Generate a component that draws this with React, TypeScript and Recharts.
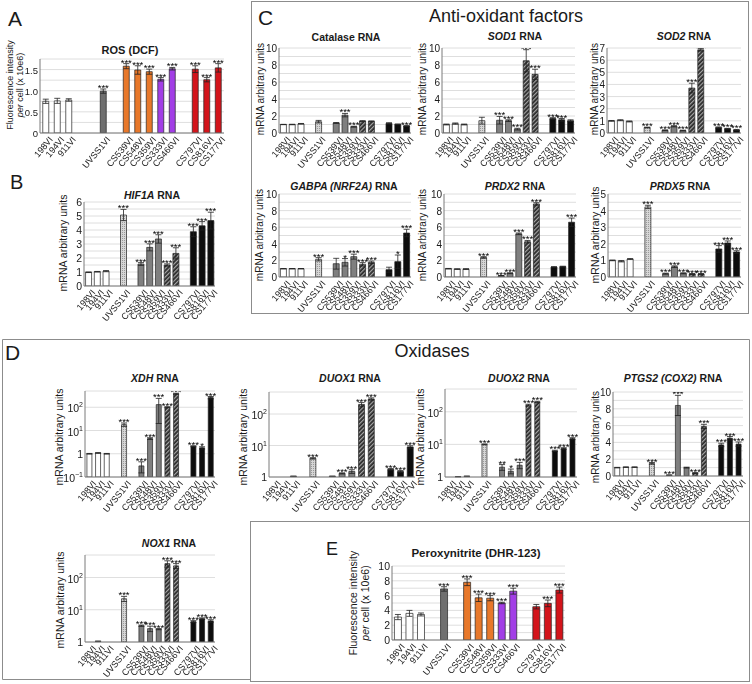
import React from "react";
import {
  ComposedChart,
  Bar,
  Scatter,
  XAxis,
  YAxis,
  CartesianGrid,
  ErrorBar,
  Cell,
} from "recharts";

const FONT = "'Liberation Sans', Arial, Helvetica, sans-serif";
const INK = "#1a1a1a";
const AXIS = "#7a7a7a";
const GRID = "#d6d6d6";

// cell lines, in plotting order (gaps after 911VI, UVSS1VI and CS466VI)
const cellLines = [
  "198VI", "194VI", "911VI", "UVSS1VI",
  "CS539VI", "CS548VI", "CS359VI", "CS333VI", "CS466VI",
  "CS797VI", "CS816VI", "CS177VI",
];

const flowFills = [
  "#ffffff", "#ffffff", "#ffffff", "#6f6f6f",
  "#e8782a", "#e8782a", "#e8782a", "#a23ee6", "#a23ee6",
  "#d3141b", "#d3141b", "#d3141b",
];
const rnaFills = [
  "#ffffff", "#ffffff", "#ffffff", "url(#uvDots)",
  "#7f7f7f", "#7f7f7f", "#7f7f7f", "url(#hatch)", "url(#hatch)",
  "#0d0d0d", "#0d0d0d", "#0d0d0d",
];

// A - ROS (DCF)
const rosValues = [0.75, 0.76, 0.78, 0.99, 1.58, 1.49, 1.45, 1.27, 1.52, 1.51, 1.26, 1.54];
const rosErrors = [0.05, 0.06, 0.03, 0.05, 0.06, 0.1, 0.06, 0.04, 0.03, 0.08, 0.05, 0.1];
const rosStars = ["", "", "", "***", "***", "***", "***", "***", "***", "***", "***", "***"];
const rosTicks = [0, 0.25, 0.5, 0.75, 1, 1.25, 1.5, 1.75];
const rosLabels = [0, 0.5, 1, 1.5];

// B - HIF1A
const hif1aValues = [0.98, 1.02, 1.06, 5.07, 1.57, 2.76, 3.36, 1.5, 2.33, 3.88, 4.3, 4.67];
const hif1aErrors = [0.02, 0.02, 0.04, 0.4, 0.1, 0.25, 0.3, 0.08, 0.4, 0.35, 0.3, 0.6];
const hif1aStars = ["", "", "", "***", "***", "***", "***", "***", "***", "***", "***", "***"];
const hif1aTicks = [0, 0.5, 1, 1.5, 2, 2.5, 3, 3.5, 4, 4.5, 5, 5.5, 6];
const hif1aLabels = [0, 1, 2, 3, 4, 5, 6];

// C - anti-oxidant factors
const catalaseValues = [1.0, 1.0, 1.08, 1.33, 1.18, 2.1, 0.74, 1.4, 1.37, 1.13, 1.02, 0.82];
const catalaseErrors = [0.02, 0.03, 0.04, 0.15, 0.05, 0.2, 0.05, 0.05, 0.05, 0.08, 0.04, 0.05];
const catalaseStars = ["", "", "", "", "", "***", "***", "", "", "", "", "***"];

const sod1Values = [1.0, 1.1, 1.0, 1.45, 1.5, 1.45, 0.45, 8.5, 6.9, 1.7, 1.55, 1.45];
const sod1Errors = [0.05, 0.08, 0.05, 0.4, 0.45, 0.1, 0.1, 1.3, 0.6, 0.1, 0.15, 0.1];
const sod1Stars = ["", "", "", "", "***", "***", "***", "***", "***", "***", "***", ""];

const sod2Values = [1.0, 1.05, 0.95, 0.45, 0.22, 0.55, 0.2, 3.7, 6.85, 0.45, 0.35, 0.25];
const sod2Errors = [0.03, 0.04, 0.04, 0.03, 0.03, 0.05, 0.03, 0.4, 0.1, 0.05, 0.03, 0.04];
const sod2Stars = ["", "", "", "***", "***", "***", "***", "***", "***", "***", "***", "***"];

const gabpaValues = [1.0, 1.0, 1.0, 2.13, 1.6, 1.77, 2.45, 1.53, 1.77, 0.88, 1.85, 5.3];
const gabpaErrors = [0.02, 0.02, 0.02, 0.2, 0.65, 0.45, 0.3, 0.2, 0.15, 0.3, 0.8, 0.45];
const gabpaStars = ["", "", "", "***", "", "*", "***", "***", "***", "", "*", "***"];

const prdx2Values = [1.0, 0.95, 0.95, 2.35, 0.15, 0.45, 5.2, 4.25, 8.8, 1.2, 1.25, 6.6];
const prdx2Errors = [0.03, 0.03, 0.05, 0.1, 0.03, 0.05, 0.1, 0.15, 0.15, 0.05, 0.05, 0.5];
const prdx2Stars = ["", "", "", "***", "***", "***", "***", "***", "***", "", "", "***"];

const prdx5Values = [1.0, 0.95, 1.08, 4.22, 0.2, 0.62, 0.22, 0.18, 0.18, 1.69, 2.05, 1.5];
const prdx5Errors = [0.02, 0.04, 0.03, 0.1, 0.03, 0.05, 0.03, 0.03, 0.03, 0.2, 0.12, 0.08];
const prdx5Stars = ["", "", "", "***", "***", "***", "***", "***", "***", "***", "***", "***"];

// D - oxidases
const xdhValues = [1.0, 1.08, 1.0, 18, 0.3, 4.5, 130, 100, 380, 2.1, 1.8, 260];
const xdhErrors = [0.03, 0.04, 0.03, 3, 0.15, 0.4, 110, 5, 20, 0.1, 0.2, 30];
const xdhStars = ["", "", "", "***", "***", "***", "***", "***", "***", "***", "*", "***"];

const duox1Values = [1.0, 1.0, 1.05, 3.9, 1.05, 1.3, 1.5, 200, 300, 1.75, 1.5, 9.0];
const duox1Errors = [0, 0, 0.02, 0.2, 0.02, 0.05, 0.2, 30, 25, 0.1, 0.1, 0.8];
const duox1Stars = ["", "", "", "***", "", "***", "***", "***", "***", "***", "***", "***"];

const duox2Values = [1.0, 1.02, 1.05, 10, 2.0, 1.5, 2.3, 160, 200, 6.3, 7.5, 15];
const duox2Errors = [0, 0.01, 0.02, 0.3, 0.4, 0.25, 0.5, 10, 10, 0.3, 0.4, 1];
const duox2Stars = ["", "", "", "***", "**", "*", "***", "***", "***", "***", "***", "***"];

const ptgs2Values = [1.0, 1.05, 1.05, 1.5, 0.1, 8.4, 1.0, 0.35, 5.9, 3.7, 4.5, 3.8];
const ptgs2Errors = [0.03, 0.03, 0.03, 0.1, 0.02, 1.2, 0.05, 0.05, 0.25, 0.2, 0.2, 0.25];
const ptgs2Stars = ["", "", "", "***", "***", "***", "", "***", "***", "***", "***", "***"];

const nox1Values = [1.0, 1.05, 1.0, 22, 3.2, 2.6, 2.5, 270, 230, 4.3, 5.3, 4.5];
const nox1Errors = [0, 0.02, 0, 4, 0.15, 0.5, 0.1, 60, 40, 0.3, 0.3, 0.4];
const nox1Stars = ["", "", "", "***", "***", "***", "***", "***", "***", "***", "***", "***"];

// E - Peroxynitrite (DHR-123)
const dhrValues = [3.1, 3.6, 3.45, 6.9, 7.8, 5.7, 5.65, 5.0, 6.6, 4.5, 4.95, 6.75];
const dhrErrors = [0.35, 0.4, 0.2, 0.3, 0.45, 0.5, 0.35, 0.1, 0.4, 0.3, 0.45, 0.4];
const dhrStars = ["", "", "", "***", "***", "***", "***", "***", "***", "", "***", "***"];

// shared axis ticks
const tenTicks = [0, 1, 2, 3, 4, 5, 6, 7, 8, 9, 10];
const evenLabels = [0, 2, 4, 6, 8, 10];
const sevenTicks = [0, 1, 2, 3, 4, 5, 6, 7];
const fiveTicks = [0, 0.5, 1, 1.5, 2, 2.5, 3, 3.5, 4, 4.5, 5];
const fiveLabels = [0, 1, 2, 3, 4, 5];
const logTicksLow = [0.1, 1, 10, 100];
const logTicks = [1, 10, 100];

type Part = { t: string; i?: boolean };
type PanelDef = {
  id: string;
  x0: number; x1: number; y0: number; y1: number;
  values: number[]; errors: number[]; stars: string[]; fills: string[];
  domain: [number, number];
  ticks: number[];
  labels: number[];
  log?: boolean;
  wideGap?: boolean;
  barGap: string;
  tickFs?: number;
  fmt?: (v: number) => string;
  title: Part[]; tx: number; ty: number; tfs?: number;
  ylabel: Part[][]; lx: number[]; ly: number; lfs: number;
};

const LEFT = 28;
const TOP = 16;
const BOTTOM = 46;
const RIGHT = 6;

function buildRows(p: PanelDef) {
  const rows: any[] = [];
  cellLines.forEach((name, i) => {
    rows.push({
      key: name,
      value: p.values[i],
      err: p.errors[i],
      top: p.values[i] + p.errors[i],
      stars: p.stars[i],
      fill: p.fills[i],
    });
    const gaps = i === 2 ? (p.wideGap ? 2 : 1) : i === 3 || i === 8 ? 1 : 0;
    for (let g = 0; g < gaps; g++) {
      rows.push({ key: `gap${i}_${g}`, value: null, err: null, top: null, stars: "", fill: "none" });
    }
  });
  return rows;
}

function CellTick(props: any) {
  const { x, y, payload } = props;
  const name = String(payload.value);
  if (name.startsWith("gap")) return <g />;
  return (
    <text
      transform={`translate(${x + 3},${y + 1}) rotate(-50)`}
      textAnchor="end"
      dy={6}
      fontSize={9}
      fontFamily={FONT}
      fill={INK}
    >
      {name}
    </text>
  );
}

function LogTick(props: any) {
  const { x, y, payload } = props;
  const e = Math.round(Math.log10(payload.value));
  if (e === 0) {
    return (
      <text x={x} y={y} dy={4} textAnchor="end" fontSize={10.5} fontFamily={FONT} fill={INK}>
        1
      </text>
    );
  }
  return (
    <text x={x} y={y} dy={5} textAnchor="end" fontSize={10.5} fontFamily={FONT} fill={INK}>
      10
      <tspan dy={-5} fontSize={7}>
        {e < 0 ? `\u2212${-e}` : e}
      </tspan>
    </text>
  );
}

function StarMark(props: any) {
  const { cx, cy, payload } = props;
  if (!payload || !payload.stars || cx == null || cy == null || isNaN(cy)) return <g />;
  return (
    <text x={cx} y={cy + 2} textAnchor="middle" fontSize={9.5} fontFamily={FONT} fill="#000">
      {payload.stars}
    </text>
  );
}

function Panel({ p }: { p: PanelDef }) {
  const rows = buildRows(p);
  const width = p.x1 - p.x0 + LEFT + RIGHT;
  const height = p.y1 - p.y0 + TOP + BOTTOM;
  const fmt = p.fmt ?? ((v: number) => String(v));
  const fs = p.tickFs ?? 10;
  return (
    <div style={{ position: "absolute", left: p.x0 - LEFT, top: p.y0 - TOP, willChange: "transform" }}>
      <ComposedChart
        width={width}
        height={height}
        data={rows}
        margin={{ top: TOP, right: RIGHT, bottom: 0, left: 0 }}
        barCategoryGap={p.barGap}
      >
        <CartesianGrid vertical={false} stroke={GRID} strokeWidth={0.8} />
        <XAxis
          dataKey="key"
          type="category"
          interval={0}
          height={BOTTOM}
          tickLine={false}
          tickSize={0}
          tickMargin={2}
          axisLine={{ stroke: AXIS }}
          tick={CellTick}
        />
        <YAxis
          type="number"
          width={LEFT}
          scale={p.log ? "log" : "auto"}
          domain={p.domain}
          ticks={p.ticks}
          interval={0}
          allowDataOverflow
          tickLine={false}
          tickSize={0}
          tickMargin={2}
          axisLine={{ stroke: AXIS }}
          tick={
            p.log
              ? LogTick
              : (t: any) =>
                  p.labels.includes(t.payload.value) ? (
                    <text x={t.x} y={t.y} dy={4} textAnchor="end" fontSize={fs} fontFamily={FONT} fill={INK}>
                      {fmt(t.payload.value)}
                    </text>
                  ) : (
                    <g />
                  )
          }
        />
        <Bar dataKey="value" stroke="#222" strokeWidth={0.7} isAnimationActive={false}>
          {rows.map((r) => (
            <Cell key={r.key} fill={r.fill} />
          ))}
          <ErrorBar dataKey="err" width={3} stroke="#222" strokeWidth={0.8} direction="y" />
        </Bar>
        <Scatter dataKey="top" shape={StarMark} isAnimationActive={false} />
      </ComposedChart>
    </div>
  );
}

const mrna: Part[][] = [[{ t: "mRNA arbitrary units" }]];
const fluo: Part[][] = [[{ t: "Fluorescence intensity" }], [{ t: "per", i: true }, { t: " cell (x 10e6)" }]];

const panels: PanelDef[] = [
  {
    id: "ros", x0: 40, x1: 224, y0: 59, y1: 133,
    values: rosValues, errors: rosErrors, stars: rosStars, fills: flowFills,
    domain: [0, 1.75], ticks: rosTicks, labels: rosLabels, wideGap: true, barGap: "24%", tickFs: 9.5,
    fmt: (v) => (v === 0 ? "0" : v.toFixed(1)),
    title: [{ t: "ROS (DCF)" }], tx: 130, ty: 54, tfs: 11,
    ylabel: fluo, lx: [10, 20], ly: 85, lfs: 9,
  },
  {
    id: "hif1a", x0: 84, x1: 215, y0: 202, y1: 286,
    values: hif1aValues, errors: hif1aErrors, stars: hif1aStars, fills: rnaFills,
    domain: [0, 6], ticks: hif1aTicks, labels: hif1aLabels, barGap: "18%", tickFs: 10.5,
    title: [{ t: "HIF1A", i: true }, { t: " RNA" }], tx: 152, ty: 199,
    ylabel: mrna, lx: [63], ly: 243, lfs: 10.5,
  },
  {
    id: "catalase", x0: 279, x1: 411, y0: 48, y1: 133,
    values: catalaseValues, errors: catalaseErrors, stars: catalaseStars, fills: rnaFills,
    domain: [0, 10], ticks: tenTicks, labels: evenLabels, barGap: "16%",
    title: [{ t: "Catalase RNA" }], tx: 346, ty: 41,
    ylabel: mrna, lx: [260], ly: 89, lfs: 10,
  },
  {
    id: "sod1", x0: 442, x1: 575, y0: 48, y1: 133,
    values: sod1Values, errors: sod1Errors, stars: sod1Stars, fills: rnaFills,
    domain: [0, 10], ticks: tenTicks, labels: evenLabels, barGap: "16%",
    title: [{ t: "SOD1", i: true }, { t: " RNA" }], tx: 515, ty: 40,
    ylabel: mrna, lx: [422], ly: 89, lfs: 10,
  },
  {
    id: "sod2", x0: 607, x1: 741, y0: 48, y1: 133,
    values: sod2Values, errors: sod2Errors, stars: sod2Stars, fills: rnaFills,
    domain: [0, 7], ticks: sevenTicks, labels: sevenTicks, barGap: "16%",
    title: [{ t: "SOD2", i: true }, { t: " RNA" }], tx: 684, ty: 40,
    ylabel: mrna, lx: [594], ly: 89, lfs: 10,
  },
  {
    id: "gabpa", x0: 279, x1: 411, y0: 194, y1: 277,
    values: gabpaValues, errors: gabpaErrors, stars: gabpaStars, fills: rnaFills,
    domain: [0, 10], ticks: tenTicks, labels: evenLabels, barGap: "16%",
    title: [{ t: "GABPA (NRF2A)", i: true }, { t: " RNA" }], tx: 344, ty: 190,
    ylabel: mrna, lx: [259], ly: 235, lfs: 10,
  },
  {
    id: "prdx2", x0: 444, x1: 576, y0: 194, y1: 277,
    values: prdx2Values, errors: prdx2Errors, stars: prdx2Stars, fills: rnaFills,
    domain: [0, 10], ticks: tenTicks, labels: evenLabels, barGap: "16%",
    title: [{ t: "PRDX2", i: true }, { t: " RNA" }], tx: 515, ty: 190,
    ylabel: mrna, lx: [422], ly: 235, lfs: 10,
  },
  {
    id: "prdx5", x0: 608, x1: 741, y0: 194, y1: 277,
    values: prdx5Values, errors: prdx5Errors, stars: prdx5Stars, fills: rnaFills,
    domain: [0, 5], ticks: fiveTicks, labels: fiveLabels, barGap: "16%",
    title: [{ t: "PRDX5", i: true }, { t: " RNA" }], tx: 680, ty: 190,
    ylabel: mrna, lx: [595], ly: 235, lfs: 10.5,
  },
  {
    id: "xdh", x0: 85, x1: 215, y0: 391, y1: 477,
    values: xdhValues, errors: xdhErrors, stars: xdhStars, fills: rnaFills,
    domain: [0.1, 500], ticks: logTicksLow, labels: logTicksLow, log: true, barGap: "22%",
    title: [{ t: "XDH", i: true }, { t: " RNA" }], tx: 155, ty: 382,
    ylabel: mrna, lx: [59], ly: 437, lfs: 10.5,
  },
  {
    id: "duox1", x0: 269, x1: 415, y0: 392, y1: 477,
    values: duox1Values, errors: duox1Errors, stars: duox1Stars, fills: rnaFills,
    domain: [1, 500], ticks: logTicks, labels: logTicks, log: true, barGap: "20%",
    title: [{ t: "DUOX1", i: true }, { t: " RNA" }], tx: 350, ty: 382,
    ylabel: mrna, lx: [243], ly: 437, lfs: 10.5,
  },
  {
    id: "duox2", x0: 445, x1: 577, y0: 389, y1: 477,
    values: duox2Values, errors: duox2Errors, stars: duox2Stars, fills: rnaFills,
    domain: [1, 500], ticks: logTicks, labels: logTicks, log: true, barGap: "20%",
    title: [{ t: "DUOX2", i: true }, { t: " RNA" }], tx: 519, ty: 382,
    ylabel: mrna, lx: [420], ly: 437, lfs: 10.5,
  },
  {
    id: "ptgs2", x0: 613, x1: 743, y0: 392, y1: 476,
    values: ptgs2Values, errors: ptgs2Errors, stars: ptgs2Stars, fills: rnaFills,
    domain: [0, 10], ticks: tenTicks, labels: evenLabels, barGap: "20%",
    title: [{ t: "PTGS2 (COX2)", i: true }, { t: " RNA" }], tx: 673, ty: 382,
    ylabel: mrna, lx: [595], ly: 437, lfs: 10,
  },
  {
    id: "nox1", x0: 85, x1: 215, y0: 555, y1: 642,
    values: nox1Values, errors: nox1Errors, stars: nox1Stars, fills: rnaFills,
    domain: [1, 500], ticks: logTicks, labels: logTicks, log: true, barGap: "22%",
    title: [{ t: "NOX1", i: true }, { t: " RNA" }], tx: 169, ty: 547,
    ylabel: mrna, lx: [60], ly: 600, lfs: 10.5,
  },
  {
    id: "dhr", x0: 392, x1: 565, y0: 566, y1: 640,
    values: dhrValues, errors: dhrErrors, stars: dhrStars, fills: flowFills,
    domain: [0, 10], ticks: tenTicks, labels: evenLabels, barGap: "21%", tickFs: 10.5,
    title: [{ t: "Peroxynitrite (DHR-123)" }], tx: 476, ty: 557, tfs: 11.5,
    ylabel: fluo, lx: [353, 365], ly: 603, lfs: 10.5,
  },
];

function renderParts(parts: Part[]) {
  return parts.map((pt, i) => (
    <tspan key={i} fontStyle={pt.i ? "italic" : "normal"}>
      {pt.t}
    </tspan>
  ));
}

export default function App() {
  return (
    <div
      style={{
        position: "absolute",
        left: 0,
        top: 0,
        width: 752,
        height: 684,
        background: "#fff",
        overflow: "hidden",
        fontFamily: FONT,
      }}
    >
      <svg width={0} height={0} style={{ position: "absolute" }}>
        <defs>
          <pattern id="hatch" patternUnits="userSpaceOnUse" width={3} height={3} patternTransform="rotate(45)">
            <rect width={3} height={3} fill="#2a2a2a" />
            <rect width={1.2} height={3} fill="#a8a8a8" />
          </pattern>
          <pattern id="uvDots" patternUnits="userSpaceOnUse" width={2} height={2}>
            <rect width={2} height={2} fill="#d6d6d6" />
            <rect width={1} height={1} fill="#9a9a9a" />
          </pattern>
        </defs>
      </svg>

      <svg width={752} height={684} style={{ position: "absolute", left: 0, top: 0 }} fontFamily={FONT}>
        {/* panel boxes */}
        <rect x={251.5} y={1.5} width={497} height={312} fill="none" stroke="#8c8c8c" />
        <path d="M2.5 339.5 H749.5 V521.5 H250.5 V679.5 H2.5 Z" fill="none" stroke="#8c8c8c" />
        <rect x={250.5} y={521.5} width={499} height={160} fill="none" stroke="#8c8c8c" />

        {/* panel letters and section titles */}
        <text x={8} y={26} fontSize={21} fill={INK}>A</text>
        <text x={10} y={189} fontSize={20} fill={INK}>B</text>
        <text x={258} y={25} fontSize={21} fill={INK}>C</text>
        <text x={5} y={360} fontSize={21} fill={INK}>D</text>
        <text x={326} y={555} fontSize={18} fill={INK}>E</text>
        <text x={506} y={22} fontSize={18} textAnchor="middle" fill={INK}>Anti-oxidant factors</text>
        <text x={432} y={357} fontSize={18} textAnchor="middle" fill={INK}>Oxidases</text>

        {panels.map((p) => (
          <g key={p.id}>
            <text x={p.tx} y={p.ty} textAnchor="middle" fontWeight="bold" fontSize={p.tfs ?? 10.5} fill={INK}>
              {renderParts(p.title)}
            </text>
            {p.ylabel.map((line, i) => (
              <text
                key={i}
                x={p.lx[i]}
                y={p.ly}
                transform={`rotate(-90 ${p.lx[i]} ${p.ly})`}
                textAnchor="middle"
                dominantBaseline="central"
                fontSize={p.lfs}
                fill={INK}
              >
                {renderParts(line)}
              </text>
            ))}
          </g>
        ))}
      </svg>

      {panels.map((p) => (
        <Panel key={p.id} p={p} />
      ))}
    </div>
  );
}
